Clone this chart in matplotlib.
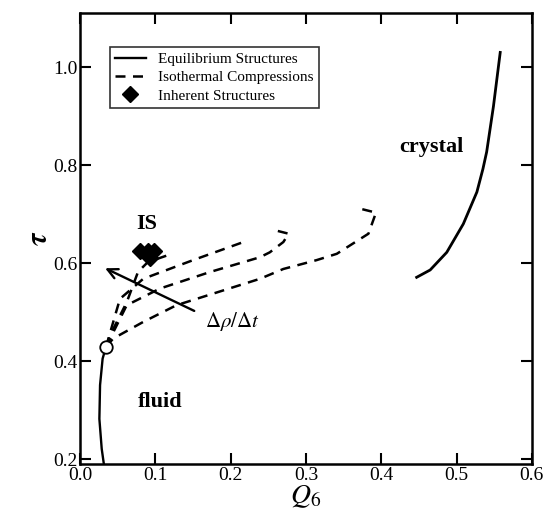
import numpy as np
import matplotlib.pyplot as plt

plt.rcParams['font.family'] = 'Liberation Serif'
plt.rcParams['mathtext.fontset'] = 'stix'

# ---- data ----
fluid_q = [0.032, 0.0288, 0.0257, 0.0266, 0.030, 0.0345]
fluid_t = [0.186, 0.221, 0.282, 0.351, 0.405, 0.429]

crystal_q = [0.447, 0.465, 0.487, 0.509, 0.527, 0.535, 0.540, 0.549, 0.558]
crystal_t = [0.571, 0.586, 0.622, 0.680, 0.745, 0.792, 0.827, 0.920, 1.030]

c1_q = [0.0345, 0.040, 0.062, 0.077, 0.090, 0.122]
c1_t = [0.429, 0.453, 0.520, 0.582, 0.602, 0.619]

c2_q = [0.0345, 0.053, 0.084, 0.150, 0.217]
c2_t = [0.429, 0.527, 0.568, 0.606, 0.643]

c3_q = [0.0345, 0.062, 0.106, 0.173, 0.239, 0.252, 0.270, 0.277, 0.259]
c3_t = [0.429, 0.514, 0.548, 0.582, 0.612, 0.622, 0.643, 0.660, 0.667]

c4_q = [0.0345, 0.044, 0.084, 0.128, 0.239, 0.270, 0.314, 0.341, 0.383, 0.393, 0.367]
c4_t = [0.429, 0.446, 0.480, 0.514, 0.568, 0.588, 0.606, 0.619, 0.660, 0.703, 0.713]

is_q = [0.080, 0.090, 0.098, 0.093]
is_t = [0.624, 0.624, 0.624, 0.610]

crit_q = 0.0345
crit_t = 0.429

fig = plt.figure(figsize=(5.5, 5.29), dpi=100)
ax = fig.add_axes([0.1455, 0.1229, 0.8215, 0.8521])

ax.plot(fluid_q, fluid_t, color='black', lw=1.7, label='Equilibrium Structures')
ax.plot(crystal_q, crystal_t, color='black', lw=2.0)

dash = dict(color='black', lw=1.8, ls=(0, (4, 3)))
ax.plot(c1_q, c1_t, label='Isothermal Compressions', **dash)
ax.plot(c2_q, c2_t, **dash)
ax.plot(c3_q, c3_t, **dash)
ax.plot(c4_q, c4_t, **dash)

ax.plot(is_q, is_t, ls='none', marker='D', ms=8, color='black',
        label='Inherent Structures')

ax.plot(crit_q, crit_t, marker='o', ms=9, mfc='white', mec='black', mew=1.3,
        zorder=5)

# compression-rate arrow
ax.annotate('', xy=(0.030, 0.592), xytext=(0.155, 0.500),
            arrowprops=dict(arrowstyle='->', color='black', lw=1.7,
                            mutation_scale=18))
ax.text(0.166, 0.480, r'$\Delta\rho/\Delta t$', fontsize=15, va='center',
        ha='left')

ax.text(0.088, 0.680, 'IS', fontsize=16, fontweight='bold', ha='center',
        va='center')
ax.text(0.106, 0.316, 'fluid', fontsize=16, fontweight='bold', ha='center',
        va='center')
ax.text(0.467, 0.837, 'crystal', fontsize=16, fontweight='bold', ha='center',
        va='center')

ax.set_xlim(0.0, 0.6)
ax.set_ylim(0.19, 1.11)
ax.set_xticks(np.arange(0.0, 0.61, 0.1))
ax.set_yticks([0.2, 0.4, 0.6, 0.8, 1.0])
ax.set_xticklabels(['0.0', '0.1', '0.2', '0.3', '0.4', '0.5', '0.6'])
ax.set_yticklabels(['0.2', '0.4', '0.6', '0.8', '1.0'])
ax.tick_params(direction='in', top=True, right=True, length=8, width=1.5,
               labelsize=14, pad=2)
for s in ax.spines.values():
    s.set_linewidth(1.8)

ax.set_xlabel(r'$Q_6$', fontsize=20, labelpad=0)
ax.set_ylabel(r'$\boldsymbol{\tau}$', fontsize=21, labelpad=0)

leg = ax.legend(loc='upper left', bbox_to_anchor=(0.066, 0.925),
                borderaxespad=0, fontsize=11, frameon=True, fancybox=False,
                edgecolor='black', handlelength=2.0, labelspacing=0.3,
                borderpad=0.35, handletextpad=0.8)
leg.get_frame().set_linewidth(1.2)

fig.savefig('out.png', dpi=100)
